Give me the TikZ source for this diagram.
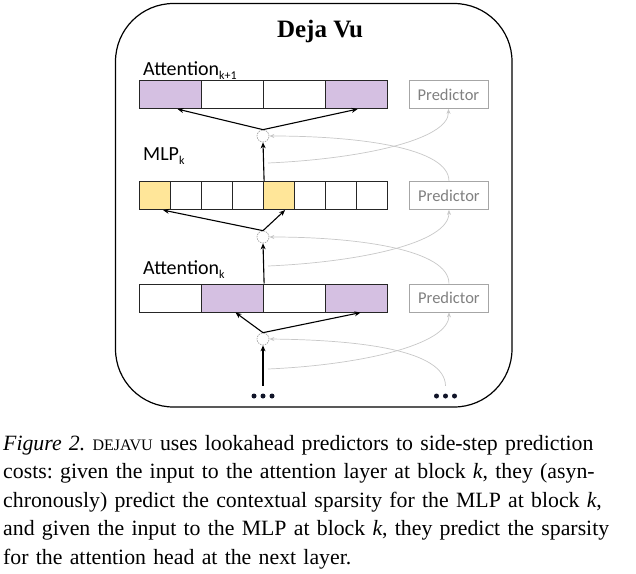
\documentclass[tikz,border=0pt]{standalone}
\usepackage{fontspec}
\setmainfont{Liberation Serif}
\newfontfamily\calib{Carlito}
\usetikzlibrary{arrows.meta,calc}

\definecolor{attpurple}{RGB}{213,192,226}
\definecolor{mlpyellow}{RGB}{255,230,153}
\definecolor{predgray}{RGB}{166,166,166}
\definecolor{predtext}{RGB}{128,128,128}
\definecolor{flowgray}{RGB}{200,200,200}
\definecolor{dotcol}{RGB}{16,20,40}

\begin{document}
\begin{tikzpicture}[x=1pt,y=-1pt,
  cell/.style={draw=black!85, line width=1.1pt, minimum height=28pt, inner sep=0pt, anchor=north west},
  bigcell/.style={cell, minimum width=62pt},
  smallcell/.style={cell, minimum width=31pt},
  pred/.style={draw=predgray, line width=0.9pt, minimum width=79pt, minimum height=28pt, inner sep=0pt, text=predtext, font=\calib\fontsize{16.5}{18}\selectfont, anchor=north west},
  junc/.style={circle, draw=black!35, dash pattern=on 1.5pt off 1pt, minimum size=12pt, inner sep=0pt, line width=0.7pt},
  lab/.style={font=\calib\fontsize{20}{22}\selectfont, anchor=base west, inner sep=0pt},
  blk/.style={-{Stealth[length=6pt,width=5pt]}, line width=1.1pt},
  gry/.style={-{Stealth[length=5pt,width=4pt]}, line width=0.7pt, draw=flowgray},
  dotsbox/.style={minimum width=24pt, minimum height=20pt, inner sep=0pt}
]
\useasboundingbox (0,0) rectangle (636,573);
\fill[white] (0,0) rectangle (636,573);

% frame
\draw[line width=1.2pt, rounded corners=58pt] (115.5,3.5) rectangle (512,407);
\node[font=\fontsize{25}{27}\selectfont\bfseries, anchor=base, inner sep=0pt] (title) at (320,37) {Deja Vu};

% labels
\node[lab] (lab3) at (143,75.5) {Attention\raisebox{-4pt}{\fontsize{12}{13}\selectfont k+1}};
\node[lab] (lab2) at (143,160.5) {MLP\raisebox{-4pt}{\fontsize{12}{13}\selectfont k}};
\node[lab] (lab1) at (143,274) {Attention\raisebox{-4pt}{\fontsize{12}{13}\selectfont k}};

% Attention k+1 bar
\node[bigcell, fill=attpurple] (a2c1) at (139,80) {};
\node[bigcell] (a2c2) at (201,80) {};
\node[bigcell] (a2c3) at (263,80) {};
\node[bigcell, fill=attpurple] (a2c4) at (325,80) {};

% MLP k bar
\node[smallcell, fill=mlpyellow] (mc1) at (139,181) {};
\node[smallcell] (mc2) at (170,181) {};
\node[smallcell] (mc3) at (201,181) {};
\node[smallcell] (mc4) at (232,181) {};
\node[smallcell, fill=mlpyellow] (mc5) at (263,181) {};
\node[smallcell] (mc6) at (294,181) {};
\node[smallcell] (mc7) at (325,181) {};
\node[smallcell] (mc8) at (356,181) {};

% Attention k bar
\node[bigcell] (a1c1) at (139,283.5) {};
\node[bigcell, fill=attpurple] (a1c2) at (201,283.5) {};
\node[bigcell] (a1c3) at (263,283.5) {};
\node[bigcell, fill=attpurple] (a1c4) at (325,283.5) {};

% predictors
\node[pred] (p3) at (408.5,80) {Predictor};
\node[pred] (p2) at (409,181) {Predictor};
\node[pred] (p1) at (409,283.5) {Predictor};

% junctions
\node[junc] (c1) at (263,136) {};
\node[junc] (c2) at (263,237) {};
\node[junc] (c3) at (263,339) {};

% dots
\node[dotsbox] (dotsL) at (263,396) {};
\node[dotsbox] (dotsR) at (445.5,396) {};
\foreach \d in {-9,0,9} {
  \fill[dotcol] ($(dotsL.center)+(\d,0)$) circle (2.5pt);
  \fill[dotcol] ($(dotsR.center)+(\d,0)$) circle (2.5pt);
}

% black arrows
\draw[blk] (dotsL.north) -- (c3.south);
\draw[blk] (c3.north) -- ($(a1c2.south)+(3,0)$);
\draw[blk] (c3.north) -- ($(a1c4.south)+(4,0)$);
\draw[blk] (a1c2.north east) -- (c2.south);
\draw[blk] (c2.north) -- ($(mc1.south)+(8,0)$);
\draw[blk] (c2.north) -- ($(mc5.south)+(6,0)$);
\draw[blk] (mc4.north east) -- (c1.south);
\draw[blk] (c1.north) -- ($(a2c1.south)+(7,0)$);
\draw[blk] (c1.north) -- ($(a2c4.south)+(1,0)$);

% gray predictor flows
\coordinate (in3) at (268,369);
\coordinate (in2) at (268,266);
\coordinate (in1) at (268,163);
\draw[gry] (in3) .. controls (360,365) and (449,345) .. (p1.south);
\draw[gry] (dotsR.north) .. controls (445,350) and (360,340) .. (c3.east);
\draw[gry] (in2) .. controls (360,262) and (449,243) .. (p2.south);
\draw[gry] (p1.north) .. controls (449,250) and (360,237) .. (c2.east);
\draw[gry] (in1) .. controls (360,159) and (449,140) .. (p3.south);
\draw[gry] (p2.north) .. controls (449,148) and (360,136) .. (c1.east);

% caption
\node[anchor=north west, inner sep=0pt, text width=624pt, align=left,
      font=\fontsize{21.8}{28.5}\selectfont] (caption) at (3,430) {\frenchspacing
\strut\makebox[624pt][s]{\textit{Figure 2.} {\fontsize{16}{20}\selectfont DEJAVU} uses lookahead predictors to side-step prediction}\\
\makebox[624pt][s]{costs: given the input to the attention layer at block \textit{k}, they (asyn-}\\
\makebox[624pt][s]{chronously) predict the contextual sparsity for the MLP at block \textit{k},}\\
\makebox[624pt][s]{and given the input to the MLP at block \textit{k}, they predict the sparsity}\\
for the attention head at the next layer.};
\end{tikzpicture}
\end{document}
